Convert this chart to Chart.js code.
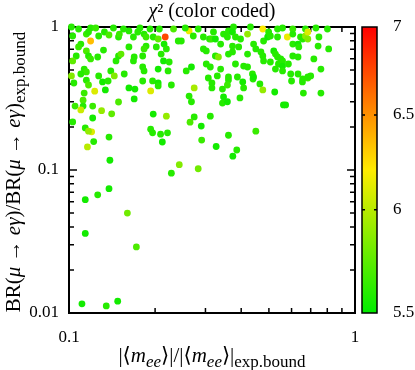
<!DOCTYPE html>
<html>
<head>
<meta charset="utf-8">
<script src="https://cdn.jsdelivr.net/npm/chart.js@4.4.1/dist/chart.umd.min.js"></script>
<style>
  html, body { margin: 0; padding: 0; background: #fff; }
  canvas { display: block; }
</style>
</head>
<body>
<canvas id="scatter" width="415" height="370"></canvas>
<script>
// |<m_ee>| / |<m_ee>|_exp.bound
const ratioMee = [
    0.12, 0.138, 0.122, 0.116, 0.139, 0.196, 0.209, 0.221, 0.212, 0.291,
    0.361, 0.327, 0.386, 0.374, 0.45, 0.243, 0.228, 0.283, 0.138, 0.126,
    0.114, 0.16, 0.114, 0.172, 0.111, 0.135, 0.148,
    0.104, 0.115, 0.117, 0.113, 0.123, 0.131, 0.137, 0.134, 0.162, 0.17,
    0.181, 0.196, 0.205, 0.205, 0.193, 0.228, 0.169, 0.149, 0.112, 0.105,
    0.112, 0.121, 0.11, 0.13, 0.141, 0.121, 0.103, 0.197, 0.219, 0.263,
    0.268, 0.274, 0.307, 0.316, 0.274, 0.265, 0.29, 0.114, 0.117, 0.193,
    0.316, 0.361, 0.358, 0.405, 0.408, 0.44, 0.465, 0.476,
    0.344, 0.347, 0.344, 0.358, 0.396, 0.524, 0.6, 0.655, 0.684, 0.66, 0.76,
    0.562, 0.572, 0.312,
    0.108, 0.119, 0.124, 0.103, 0.115, 0.117, 0.119, 0.127, 0.133, 0.138,
    0.149, 0.15, 0.162, 0.168, 0.174, 0.183, 0.186, 0.197, 0.207, 0.205,
    0.217, 0.232, 0.241, 0.247, 0.263, 0.272, 0.283, 0.295, 0.31,
    0.11, 0.108, 0.115, 0.106, 0.117, 0.119, 0.126, 0.103, 0.132, 0.149,
    0.152, 0.146, 0.162, 0.168, 0.169, 0.186, 0.183, 0.181, 0.202, 0.215,
    0.219, 0.21, 0.214, 0.224, 0.181, 0.183, 0.205, 0.222, 0.113, 0.115,
    0.102, 0.11, 0.127, 0.14, 0.144, 0.156,
    0.257, 0.268, 0.295, 0.302, 0.315, 0.302,
    0.376, 0.476, 0.536, 0.558, 0.606, 0.671, 0.801, 0.32, 0.325, 0.347,
    0.358, 0.361, 0.373, 0.382, 0.398, 0.421, 0.339, 0.373, 0.392, 0.442,
    0.45, 0.479, 0.495, 0.499, 0.506, 0.536, 0.58, 0.606, 0.645, 0.656,
    0.671, 0.684, 0.684, 0.748, 0.743, 0.809, 0.606, 0.632, 0.636, 0.325,
    0.333, 0.373, 0.361, 0.421, 0.469, 0.476, 0.479, 0.52, 0.527, 0.536,
    0.55, 0.558, 0.506, 0.54, 0.558, 0.606, 0.632, 0.585, 0.718, 0.76,
    0.382, 0.339, 0.312, 0.408, 0.421, 0.438, 0.442, 0.33, 0.361, 0.388,
    0.527, 0.558, 0.596, 0.632, 0.656, 0.684, 0.7,
    0.102, 0.143, 0.155, 0.177, 0.192, 0.255, 0.431, 0.73
];

// BR(mu -> e gamma) / BR(mu -> e gamma)_exp.bound
const ratioBR = [
    0.185, 0.17, 0.158, 0.145, 0.117, 0.182, 0.178, 0.182, 0.157, 0.162,
    0.175, 0.146, 0.138, 0.125, 0.187, 0.109, 0.095, 0.102, 0.074, 0.067,
    0.062, 0.05, 0.036, 0.029, 0.0116, 0.0112, 0.0121,
    0.406, 0.425, 0.393, 0.345, 0.356, 0.413, 0.419, 0.363, 0.375, 0.368,
    0.419, 0.42, 0.406, 0.387, 0.357, 0.393, 0.314, 0.299, 0.308, 0.28,
    0.28, 0.28, 0.263, 0.26, 0.247, 0.231, 0.217, 0.246, 0.238, 0.329,
    0.3, 0.375, 0.44, 0.375, 0.235, 0.216, 0.203, 0.197, 0.187, 0.193,
    0.406, 0.426, 0.393, 0.413, 0.375, 0.433, 0.4, 0.363,
    0.368, 0.324, 0.294, 0.3, 0.319, 0.351, 0.419, 0.413, 0.44, 0.345, 0.345,
    0.285, 0.285, 0.238,
    0.968, 0.984, 0.984, 0.865, 0.893, 0.923, 0.798, 0.865, 0.923, 0.879,
    0.851, 0.893, 0.938, 0.851, 0.923, 0.893, 0.851, 0.851, 0.968, 0.824,
    0.851, 0.968, 0.798, 0.798, 0.938, 0.865, 0.968, 0.851, 0.824,
    0.76, 0.725, 0.68, 0.627, 0.627, 0.598, 0.617, 0.579, 0.69, 0.627,
    0.647, 0.579, 0.725, 0.579, 0.617, 0.736, 0.702, 0.627, 0.725, 0.76,
    0.702, 0.647, 0.579, 0.569, 0.525, 0.493, 0.508, 0.493, 0.508, 0.485,
    0.455, 0.469, 0.455, 0.493, 0.455, 0.469,
    0.493, 0.525, 0.702, 0.68, 0.824, 0.551,
    1.0, 0.968, 0.968, 0.984, 0.968, 0.968, 0.968, 0.923, 0.824, 0.893,
    0.851, 0.938, 0.923, 0.851, 0.824, 0.893, 0.76, 0.736, 0.725, 0.76,
    0.702, 0.798, 0.851, 0.923, 0.865, 0.851, 0.851, 0.893, 0.851, 0.824,
    0.865, 0.824, 0.923, 0.851, 0.736, 0.702, 0.76, 0.76, 0.725, 0.627,
    0.617, 0.669, 0.647, 0.647, 0.669, 0.627, 0.579, 0.68, 0.647, 0.617,
    0.598, 0.579, 0.569, 0.551, 0.533, 0.627, 0.617, 0.551, 0.598, 0.508,
    0.551, 0.508, 0.525, 0.533, 0.525, 0.469, 0.447, 0.455, 0.447, 0.447,
    0.508, 0.493, 0.469, 0.469, 0.433, 0.447, 0.455,
    1.0, 0.984, 0.968, 0.984, 0.968, 0.984, 1.0, 0.984
];

// chi^2 of each point (colour coded)
const chi2 = [
    6.1, 5.6, 5.6, 6.0, 5.55, 5.6, 5.6, 5.6, 5.55, 5.65,
    5.6, 5.55, 5.6, 5.55, 5.65, 5.85, 5.6, 5.8, 5.55, 5.6,
    5.55, 5.8, 5.55, 5.7, 5.55, 5.6, 5.55,
    5.6, 5.6, 5.7, 5.65, 6.1, 5.55, 5.6, 5.55, 5.55, 5.55,
    5.6, 5.6, 5.55, 5.6, 6.1, 5.6, 5.55, 5.7, 5.7, 5.65,
    5.6, 5.65, 6.05, 5.9, 5.75, 5.55, 5.6, 5.55, 5.9, 5.6,
    5.6, 5.95, 5.6, 5.6, 5.6, 5.7, 5.55, 5.6, 5.9, 5.6,
    5.6, 5.6, 5.65, 5.55, 5.6, 5.6, 5.6, 5.9,
    5.6, 5.55, 5.6, 5.55, 5.6, 5.55, 5.6, 5.6, 5.7, 5.6, 5.6,
    5.55, 5.55, 5.6,
    5.6, 5.6, 5.65, 5.6, 5.65, 5.6, 6.35, 5.6, 5.6, 5.7,
    5.6, 5.65, 5.6, 5.6, 5.6, 5.6, 5.65, 5.6, 5.6, 5.75,
    6.75, 5.7, 5.6, 5.6, 6.15, 5.6, 5.6, 5.6, 5.6,
    5.6, 5.65, 5.7, 5.6, 5.6, 5.65, 5.6, 5.75, 5.6, 5.6,
    5.75, 5.6, 5.6, 5.6, 5.6, 5.6, 5.65, 5.6, 5.6, 5.55,
    5.6, 5.6, 5.55, 5.6, 5.6, 5.6, 5.55, 5.6, 5.6, 5.65,
    5.85, 5.6, 5.6, 5.6, 5.85, 5.6,
    5.6, 5.55, 5.6, 5.6, 5.65, 5.6,
    5.6, 6.2, 5.6, 5.6, 5.65, 5.6, 5.6, 5.6, 5.55, 5.6,
    5.6, 5.6, 5.55, 5.6, 5.6, 5.9, 5.6, 5.6, 5.6, 5.6,
    5.6, 5.6, 5.55, 5.6, 5.6, 5.6, 6.15, 5.6, 5.6, 5.6,
    5.9, 5.85, 6.1, 5.6, 5.6, 5.6, 5.6, 5.55, 5.6, 5.6,
    5.85, 5.6, 5.6, 5.6, 5.6, 5.6, 5.6, 5.55, 5.6, 5.6,
    5.6, 5.6, 5.6, 5.6, 5.55, 5.6, 5.6, 5.6, 5.6, 5.6,
    5.6, 5.6, 5.6, 5.6, 5.6, 5.6, 5.55, 5.6, 5.6, 5.6,
    5.6, 5.6, 5.6, 5.6, 5.6, 5.6, 5.6,
    5.6, 5.6, 5.6, 5.6, 5.6, 5.6, 5.6, 5.6
];

const xTicks = [0.1, 1];
const yTicks = [0.01, 0.1, 1];
const chi2Ticks = [5.5, 6, 6.5, 7];
const chi2Min = 5.5;
const chi2Max = 7;

const SERIF = '"Liberation Serif", "DejaVu Serif", serif';
const FONT_SIZE = 17;
const TITLE_SIZE = 20;

// green -> yellow -> red, linear in log(chi2) like the colour box
function paletteColor(c) {
    let f = (Math.log(c) - Math.log(chi2Min)) / (Math.log(chi2Max) - Math.log(chi2Min));
    f = Math.max(0, Math.min(1, f));
    const r = f < 0.5 ? Math.round(510 * f) : 255;
    const g = f < 0.5 ? 235 : Math.round(235 * 2 * (1 - f));
    return `rgb(${r},${g},0)`;
}

// draws text pieces side by side: r = roman, i = italic, s = subscript, si = italic subscript
function drawRich(ctx, parts, cx, cy, size) {
    const fontFor = style => {
        const sub = style === 's' || style === 'si';
        const it = style === 'i' || style === 'si';
        return (it ? 'italic ' : '') + Math.round(sub ? size * 0.8 : size) + 'px ' + SERIF;
    };
    let total = 0;
    parts.forEach(p => { ctx.font = fontFor(p[1]); total += ctx.measureText(p[0]).width; });
    let x = cx - total / 2;
    ctx.textAlign = 'left';
    ctx.textBaseline = 'middle';
    parts.forEach(p => {
        ctx.font = fontFor(p[1]);
        const sub = p[1] === 's' || p[1] === 'si';
        ctx.fillText(p[0], x, cy + (sub ? size * 0.3 : 0));
        x += ctx.measureText(p[0]).width;
    });
}

// all values 1..9 x 10^k inside [min, max]
function logSteps(min, max) {
    const out = [];
    for (let e = Math.floor(Math.log10(min)); e <= Math.ceil(Math.log10(max)); e++) {
        for (let k = 1; k <= 9; k++) {
            const v = k * Math.pow(10, e);
            if (v >= min * 0.999 && v <= max * 1.001) out.push({ v: v, major: k === 1 });
        }
    }
    return out;
}

// box with inward mirrored tick marks
const framePlugin = {
    id: 'frame',
    beforeDatasetsDraw(chart) {
        const { ctx, chartArea: a, scales } = chart;
        ctx.save();
        ctx.strokeStyle = '#000';
        ctx.lineWidth = 1.5;
        ctx.beginPath();
        logSteps(scales.x.min, scales.x.max).forEach(t => {
            const px = scales.x.getPixelForValue(t.v);
            const len = t.major ? 8 : 5;
            ctx.moveTo(px, a.bottom); ctx.lineTo(px, a.bottom - len);
            ctx.moveTo(px, a.top); ctx.lineTo(px, a.top + len);
        });
        logSteps(scales.y.min, scales.y.max).forEach(t => {
            const py = scales.y.getPixelForValue(t.v);
            const len = t.major ? 8 : 5;
            ctx.moveTo(a.left, py); ctx.lineTo(a.left + len, py);
            ctx.moveTo(a.right, py); ctx.lineTo(a.right - len, py);
        });
        ctx.stroke();
        ctx.lineWidth = 2;
        ctx.strokeRect(a.left, a.top, a.right - a.left, a.bottom - a.top);
        ctx.restore();
    }
};

// colour box drawn against the chi2 scale
const colorBoxPlugin = {
    id: 'colorBox',
    afterDraw(chart) {
        const { ctx, chartArea: a, scales } = chart;
        const cs = scales.c;
        const top = cs.getPixelForValue(chi2Max);
        const bottom = cs.getPixelForValue(chi2Min);
        const left = a.right + 7;
        const w = 15;
        const grad = ctx.createLinearGradient(0, bottom, 0, top);
        for (let i = 0; i <= 30; i++) {
            const v = Math.exp(Math.log(chi2Min) + (Math.log(chi2Max) - Math.log(chi2Min)) * i / 30);
            grad.addColorStop((cs.getPixelForValue(v) - bottom) / (top - bottom), paletteColor(v));
        }
        ctx.save();
        ctx.fillStyle = grad;
        ctx.fillRect(left, top, w, bottom - top);
        ctx.strokeStyle = '#000';
        ctx.lineWidth = 1.5;
        ctx.strokeRect(left, top, w, bottom - top);
        ctx.beginPath();
        chi2Ticks.slice(1, -1).forEach(v => {
            const py = cs.getPixelForValue(v);
            ctx.moveTo(left, py); ctx.lineTo(left + 3, py);
            ctx.moveTo(left + w, py); ctx.lineTo(left + w - 3, py);
        });
        ctx.stroke();
        ctx.restore();
    }
};

// title and axis titles with sub/superscripts
const titlesPlugin = {
    id: 'titles',
    afterDraw(chart) {
        const { ctx, chartArea: a } = chart;
        ctx.save();
        ctx.fillStyle = '#000';
        drawRich(ctx, [['χ', 'i'], ['²', 'r'], [' (color coded)', 'r']], 212, 12, TITLE_SIZE);
        drawRich(ctx, [['|⟨', 'r'], ['m', 'i'], ['ee', 'si'], ['⟩|/|⟨', 'r'], ['m', 'i'], ['ee', 'si'], ['⟩|', 'r'], ['exp.bound', 's']],
            (a.left + a.right) / 2, 356, 21);
        ctx.translate(14, (a.top + a.bottom) / 2 + 2);
        ctx.rotate(-Math.PI / 2);
        drawRich(ctx, [['BR(', 'r'], ['μ', 'i'], [' → ', 'r'], ['eγ', 'i'], [')/BR(', 'r'], ['μ', 'i'], [' → ', 'r'], ['eγ', 'i'], [')', 'r'], ['exp.bound', 's']],
            0, 0, 21);
        ctx.restore();
    }
};

const tickFont = { family: SERIF, size: FONT_SIZE };

new Chart(document.getElementById('scatter').getContext('2d'), {
    type: 'scatter',
    data: {
        datasets: [{
            data: ratioMee.map((x, i) => ({ x: x, y: ratioBR[i] })),
            backgroundColor: chi2.map(paletteColor),
            borderWidth: 0,
            pointRadius: 3.4,
            pointHoverRadius: 3.4,
            clip: 4
        }]
    },
    options: {
        responsive: false,
        animation: false,
        layout: { padding: { top: 27, left: 0, right: 0, bottom: 0 } },
        plugins: {
            legend: { display: false },
            tooltip: { enabled: false }
        },
        scales: {
            x: {
                type: 'logarithmic',
                min: 0.1,
                max: 1,
                grid: { display: false, drawTicks: false },
                border: { display: false },
                ticks: {
                    font: tickFont,
                    color: '#000',
                    padding: 14,
                    maxRotation: 0,
                    autoSkip: false,
                    callback: v => String(v)
                },
                afterBuildTicks: s => { s.ticks = xTicks.map(v => ({ value: v })); },
                afterFit: s => { s.height = 57; }
            },
            y: {
                type: 'logarithmic',
                min: 0.01,
                max: 1,
                grid: { display: false, drawTicks: false },
                border: { display: false },
                ticks: {
                    font: tickFont,
                    color: '#000',
                    padding: 10,
                    autoSkip: false,
                    callback: v => String(v)
                },
                afterBuildTicks: s => { s.ticks = yTicks.map(v => ({ value: v })); },
                afterFit: s => { s.width = 69; }
            },
            c: {
                type: 'logarithmic',
                position: 'right',
                min: chi2Min,
                max: chi2Max,
                // hidden tick length pushes the labels past the colour box
                grid: { display: false, drawTicks: true, tickLength: 36 },
                border: { display: false },
                ticks: {
                    font: tickFont,
                    color: '#000',
                    padding: 2,
                    autoSkip: false,
                    callback: v => String(v)
                },
                afterBuildTicks: s => { s.ticks = chi2Ticks.map(v => ({ value: v })); },
                afterFit: s => { s.width = 60; }
            }
        }
    },
    plugins: [framePlugin, colorBoxPlugin, titlesPlugin]
});
</script>
</body>
</html>
